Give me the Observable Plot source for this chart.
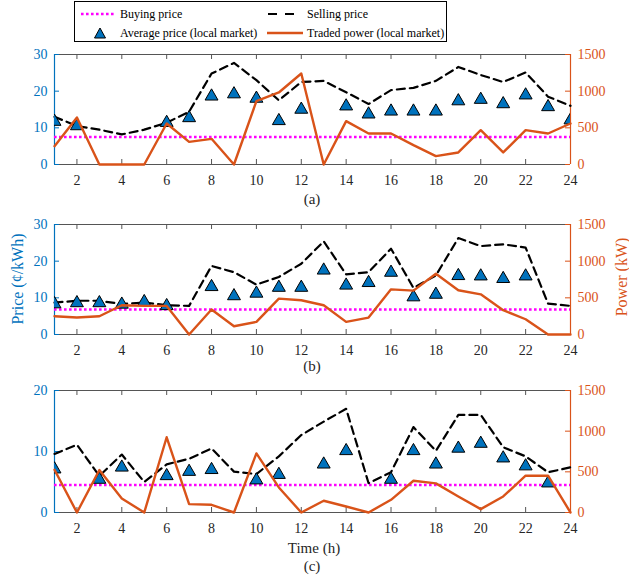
<!DOCTYPE html>
<html>
<head>
<meta charset="utf-8">
<script src="https://cdn.jsdelivr.net/npm/d3@7"></script>
<script src="https://cdn.jsdelivr.net/npm/@observablehq/plot@0.6"></script>
<style>
  body { margin: 0; background: #fff; }
  #chart { position: relative; width: 629px; height: 585px; overflow: hidden; font-family: "Liberation Serif", "DejaVu Serif", "Times New Roman", serif; }
  .lbl { position: absolute; white-space: nowrap; transform: translate(-50%, -50%); color: #262626; }
  .vlbl { position: absolute; white-space: nowrap; transform: translate(-50%, -50%) rotate(-90deg); }
  #legend { position: absolute; left: 74px; top: 1px; width: 371px; height: 39px; border: 1px solid #000; background: #fff; font-size: 12px; color: #000; }
  #legend .t { position: absolute; white-space: nowrap; transform: translateY(-50%); }
  #legend svg { position: absolute; left: 0; top: 0; }
</style>
</head>
<body>
<div id="chart"></div>
<script>
// ---- data ----
const hours = [1,2,3,4,5,6,7,8,9,10,11,12,13,14,15,16,17,18,19,20,21,22,23,24];
const xTicks = [2,4,6,8,10,12,14,16,18,20,22,24];
const priceTicksAB = [0,10,20,30];
const priceTicksC = [0,10,20];
const powerTicks = [0,500,1000,1500];

// (a)
const sellA = [13.0,10.5,9.5,8.2,9.5,11.4,14.4,24.8,27.7,23.0,17.5,22.5,22.8,19.7,16.5,20.3,20.9,22.8,26.6,24.4,22.5,25.1,18.5,16.0];
const avgA  = [11.7,10.5,null,null,null,11.4,12.7,18.6,19.2,18.0,11.9,15.0,null,15.9,13.7,14.5,14.5,14.5,17.3,17.7,16.5,18.9,15.7,12.1];
const powA  = [250,641,0,0,0,559,309,350,0,864,982,1241,0,591,423,423,264,114,164,468,164,468,423,559];
const buyA = 7.5;
// (b)
const sellB = [8.7,9.2,9.2,8.3,8.7,8.0,7.8,18.7,17.0,13.6,15.7,19.3,25.4,16.4,17.0,23.4,12.7,16.1,26.3,24.1,24.6,23.7,8.4,7.8];
const avgB  = [8.3,8.6,8.6,8.2,8.9,7.8,null,13.0,10.5,11.2,12.8,12.8,17.5,13.4,14.1,16.9,10.2,10.9,16.0,15.9,15.2,15.9,null,null];
const powB  = [249,231,249,399,390,390,0,340,113,172,489,467,399,172,231,616,598,829,603,548,331,208,0,0];
const buyB = 6.8;
// (c)
const sellC = [9.6,11.1,6.0,9.5,5.0,7.9,8.8,10.5,6.7,6.3,9.2,12.7,14.9,17.0,4.8,6.6,14.0,10.1,16.0,16.0,10.7,9.2,6.6,7.4];
const avgC  = [7.1,null,5.4,7.4,null,6.0,6.7,7.0,null,5.3,6.2,null,7.9,10.1,null,5.4,10.1,7.9,10.5,11.3,8.9,7.6,4.8,null];
const powC  = [526,0,522,173,0,925,103,95,0,727,308,0,144,74,0,156,390,358,197,41,197,452,452,0];
const buyC = 4.5;

const BLUE = "#0072BD", ORANGE = "#D95319", MAGENTA = "#FF00FF", FRAME = "#555";
const FONT = '"Liberation Serif", "DejaVu Serif", "Times New Roman", serif';
const W = 629, ML = 54, MR = 59;
const chart = document.getElementById("chart");

function panel(sell, avg, pow, buy, yMax, yTicks, plotTop, plotH) {
  const mt = 12, mb = 34;
  const k = yMax / 1500;
  const rows = hours.map((h, i) => ({h, sell: sell[i], avg: avg[i], pow: pow[i]}));
  const yLen = 5 * yMax / plotH;
  const xLen = 5 * 23 / (W - ML - MR);
  const svg = Plot.plot({
    width: W, height: mt + plotH + mb,
    marginLeft: ML, marginRight: MR, marginTop: mt, marginBottom: mb,
    style: {fontFamily: FONT, fontSize: "14px", background: "transparent", overflow: "visible"},
    x: {domain: [1, 24]},
    y: {domain: [0, yMax]},
    marks: [
      Plot.ruleY([0, yMax], {stroke: FRAME, strokeWidth: 1}),
      Plot.ruleX(xTicks, {y1: 0, y2: yLen, stroke: FRAME}),
      Plot.ruleX(xTicks, {y1: yMax - yLen, y2: yMax, stroke: FRAME}),
      Plot.ruleY(yTicks, {x1: 1, x2: 1 + xLen, stroke: BLUE}),
      Plot.ruleY(powerTicks.map(v => v * k), {x1: 24 - xLen, x2: 24, stroke: ORANGE}),
      Plot.ruleX([1], {stroke: BLUE, strokeWidth: 1.2}),
      Plot.ruleX([24], {stroke: ORANGE, strokeWidth: 1.2}),
      Plot.ruleY([buy], {stroke: MAGENTA, strokeWidth: 2.6, strokeDasharray: "2.6,2.4"}),
      Plot.line(rows, {x: "h", y: "sell", stroke: "#000", strokeWidth: 2.2, strokeDasharray: "8,5"}),
      Plot.dot(rows, {x: "h", y: "avg", symbol: "triangle", r: 4.8, fill: BLUE, stroke: "#000", strokeWidth: 1, clip: true}),
      Plot.line(rows, {x: "h", y: d => d.pow * k, stroke: ORANGE, strokeWidth: 2.4}),
      Plot.axisX({ticks: xTicks, tickSize: 0, tickPadding: 11, fill: "#262626", label: null}),
      Plot.axisY({anchor: "left", ticks: yTicks, tickSize: 0, tickPadding: 7, fill: BLUE, label: null}),
      Plot.axisY({anchor: "right", ticks: powerTicks.map(v => v * k), tickFormat: v => String(Math.round(v / k)), tickSize: 0, tickPadding: 7, fill: ORANGE, label: null})
    ]
  });
  svg.style.position = "absolute";
  svg.style.left = "0px";
  svg.style.top = (plotTop - mt) + "px";
  chart.appendChild(svg);
}

panel(sellA, avgA, powA, buyA, 30, priceTicksAB, 54, 110);
panel(sellB, avgB, powB, buyB, 30, priceTicksAB, 224, 110);
panel(sellC, avgC, powC, buyC, 20, priceTicksC, 390, 122);

function label(text, x, y, size, color, cls) {
  const d = document.createElement("div");
  d.className = cls || "lbl";
  d.textContent = text;
  d.style.left = x + "px";
  d.style.top = y + "px";
  d.style.fontSize = size + "px";
  if (color) d.style.color = color;
  chart.appendChild(d);
}
label("(a)", 312, 199, 15);
label("(b)", 312, 366, 15);
label("Time (h)", 314, 548, 15);
label("(c)", 312, 566, 15);
label("Price (¢/kWh)", 18, 279, 16, BLUE, "vlbl");
label("Power (kW)", 622, 277, 16, ORANGE, "vlbl");

// legend
const lg = document.createElement("div");
lg.id = "legend";
lg.innerHTML = `
<svg width="371" height="39">
  <line x1="6" x2="39" y1="12" y2="12" stroke="${MAGENTA}" stroke-width="2.6" stroke-dasharray="2.6,2.4"/>
  <line x1="193" x2="220" y1="12" y2="12" stroke="#000" stroke-width="2.2" stroke-dasharray="9,8"/>
  <path d="M25,26 L30.5,36 L19.5,36 Z" fill="${BLUE}" stroke="#000" stroke-width="1"/>
  <line x1="192" x2="228" y1="31" y2="31" stroke="${ORANGE}" stroke-width="2.4"/>
</svg>
<div class="t" style="left:45px;top:12px">Buying price</div>
<div class="t" style="left:232px;top:12px">Selling price</div>
<div class="t" style="left:45px;top:31px">Average price (local market)</div>
<div class="t" style="left:232px;top:31px">Traded power (local market)</div>`;
chart.appendChild(lg);
</script>
</body>
</html>
